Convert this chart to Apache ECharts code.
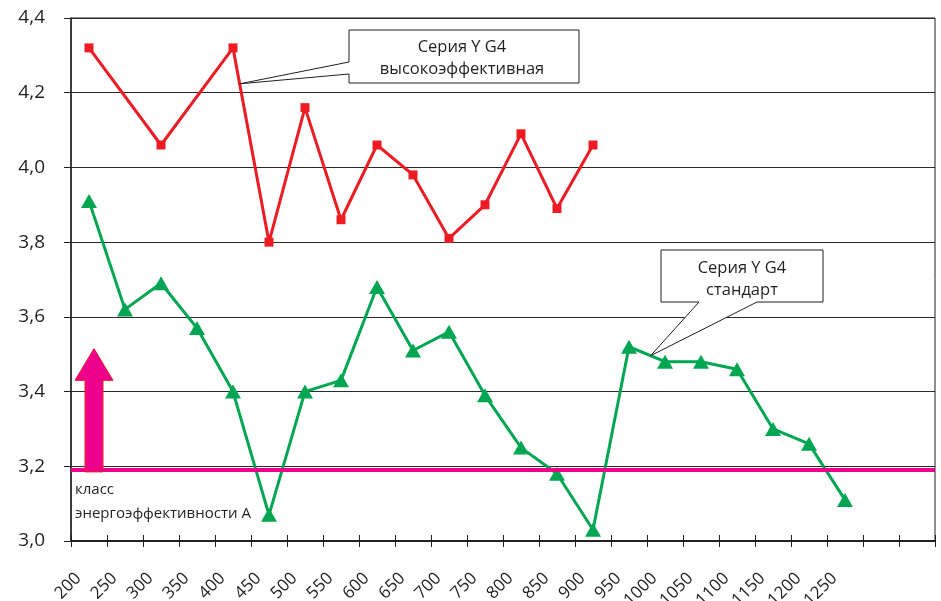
<!DOCTYPE html>
<html><head><meta charset="utf-8">
<script src="https://cdn.jsdelivr.net/npm/echarts@6/dist/echarts.min.js"></script>
<style>html,body{margin:0;padding:0;background:#fff}#c{width:941px;height:601px}</style>
</head><body><div id="c"></div>
<script>
// ---- data ----
const categories = ['200','250','300','350','400','450','500','550','600','650','700','750','800','850','900','950','1000','1050','1100','1150','1200','1250','',''];
const redValues   = [4.32,null,4.06,null,4.32,3.80,4.16,3.86,4.06,3.98,3.81,3.90,4.09,3.89,4.06,null,null,null,null,null,null,null,null,null];
const greenValues = [3.91,3.62,3.69,3.57,3.40,3.07,3.40,3.43,3.68,3.51,3.56,3.39,3.25,3.18,3.03,3.52,3.48,3.48,3.46,3.30,3.26,3.11,null,null];
const classLevel = 3.185;
const arrowValues = [[0, 3.185, 3.43, 3.515]]; // category, base, head base, tip
const redName = ['Серия Y G4', 'высокоэффективная'];
const greenName = ['Серия Y G4', 'стандарт'];
const classText = ['класс', 'энергоэффективности А'];
const yMin = 3.0, yMax = 4.4, yStep = 0.2;

const FONT = '"Open Sans", "Noto Sans", sans-serif';
const INK = '#231f20';
const chart = echarts.init(document.getElementById('c'), null, {renderer: 'canvas'});

const option = {
  backgroundColor: '#fff',
  animation: false,
  grid: {left: 71, right: 6, top: 18, bottom: 60, show: true, borderColor: INK, borderWidth: 1, outerBoundsMode: 'none'},
  xAxis: [{
    type: 'category', data: categories, boundaryGap: true,
    axisLine: {lineStyle: {color: INK, width: 2}},
    axisTick: {show: true, length: 6, lineStyle: {color: INK, width: 1}},
    axisLabel: {interval: 0, rotate: 45, color: INK, fontSize: 17, fontFamily: FONT, margin: 24, padding: [0, 15, 0, 0]},
    splitLine: {show: false}
  }, {
    type: 'category', data: categories, boundaryGap: true, position: 'bottom',
    axisLine: {show: false},
    axisTick: {show: true, inside: true, length: 6, lineStyle: {color: INK, width: 1}},
    axisLabel: {show: false}, splitLine: {show: false}
  }],
  yAxis: {
    type: 'value', min: yMin, max: yMax, interval: yStep,
    axisLine: {show: true, lineStyle: {color: INK, width: 1.5}},
    axisTick: {show: true, length: 7, lineStyle: {color: INK}},
    axisLabel: {color: INK, fontSize: 19, fontFamily: FONT, margin: 26,
      formatter: v => v.toFixed(1).replace('.', ',')},
    splitLine: {lineStyle: {color: '#2a2a2a', width: 1}}
  },
  series: [
    {
      name: 'red', type: 'line', data: redValues, connectNulls: true,
      symbol: 'rect', symbolSize: 9, showSymbol: true,
      lineStyle: {color: '#ed1c24', width: 3}, itemStyle: {color: '#ed1c24'}, z: 5
    },
    {
      name: 'green', type: 'line', data: greenValues, connectNulls: false,
      symbol: 'triangle', symbolSize: [16, 14],
      lineStyle: {color: '#00a651', width: 3}, itemStyle: {color: '#00a651'}, z: 4
    },
    {
      name: 'class', type: 'line', data: [], z: 6,
      markLine: {
        silent: true, symbol: 'none', label: {show: false},
        lineStyle: {color: '#ec008c', width: 4, type: 'solid'},
        data: [{yAxis: classLevel}]
      }
    },
    {
      name: 'arrow', type: 'custom', z: 7, data: arrowValues,
      renderItem: function (params, api) {
        const base = api.coord([api.value(0), api.value(1)]);
        const headB = api.coord([api.value(0), api.value(2)]);
        const tip = api.coord([api.value(0), api.value(3)]);
        const cx = base[0] + 5, sw = 9, hw = 19;
        return {
          type: 'polygon',
          shape: {points: [
            [cx - sw, base[1]], [cx - sw, headB[1]], [cx - hw, headB[1]], [cx, tip[1]],
            [cx + hw, headB[1]], [cx + sw, headB[1]], [cx + sw, base[1]]
          ]},
          style: {fill: '#ec008c', stroke: '#ed1c24', lineWidth: 1}
        };
      }
    }
  ]
};
chart.setOption(option);

function lerp(a, b, t) { return [a[0] + (b[0] - a[0]) * t, a[1] + (b[1] - a[1]) * t]; }
const r4 = chart.convertToPixel({seriesIndex: 0}, [4, redValues[4]]);
const r5 = chart.convertToPixel({seriesIndex: 0}, [5, redValues[5]]);
const tip1 = lerp(r4, r5, 0.185);
const g15 = chart.convertToPixel({seriesIndex: 1}, [15, greenValues[15]]);
const g16 = chart.convertToPixel({seriesIndex: 1}, [16, greenValues[16]]);
const tip2 = lerp(g15, g16, 0.6);

const b1 = {x0: 349, y0: 30, x1: 579, y1: 83};
const b2 = {x0: 661, y0: 250, x1: 823, y1: 302};
const textStyle = {fill: INK, fontSize: 16.5, fontFamily: FONT, textAlign: 'center', textVerticalAlign: 'middle'};
const classPx = chart.convertToPixel({yAxisIndex: 0}, classLevel);

chart.setOption({
  graphic: [
    {type: 'polygon', z: 100, shape: {points: [
      [b1.x0, b1.y0], [b1.x1, b1.y0], [b1.x1, b1.y1], [b1.x0, b1.y1], [b1.x0, 74], tip1, [b1.x0, 62]
    ]}, style: {fill: '#fff', stroke: INK, lineWidth: 1}},
    {type: 'text', z: 101, x: (b1.x0 + b1.x1) / 2 - 2, y: 47, style: Object.assign({text: redName[0]}, textStyle)},
    {type: 'text', z: 101, x: (b1.x0 + b1.x1) / 2 - 2, y: 69, style: Object.assign({text: redName[1]}, textStyle)},
    {type: 'polygon', z: 100, shape: {points: [
      [b2.x0, b2.y0], [b2.x1, b2.y0], [b2.x1, b2.y1], [757, b2.y1], tip2, [699, b2.y1], [b2.x0, b2.y1]
    ]}, style: {fill: '#fff', stroke: INK, lineWidth: 1}},
    {type: 'text', z: 101, x: (b2.x0 + b2.x1) / 2, y: 268, style: Object.assign({text: greenName[0]}, textStyle)},
    {type: 'text', z: 101, x: (b2.x0 + b2.x1) / 2, y: 290, style: Object.assign({text: greenName[1]}, textStyle)},
    {type: 'text', z: 101, x: 75, y: classPx + 18, style: {text: classText[0], fill: INK, fontSize: 15, fontFamily: FONT, textVerticalAlign: 'middle'}},
    {type: 'text', z: 101, x: 75, y: classPx + 42, style: {text: classText[1], fill: INK, fontSize: 15, fontFamily: FONT, textVerticalAlign: 'middle'}}
  ]
});
</script>
</body></html>
